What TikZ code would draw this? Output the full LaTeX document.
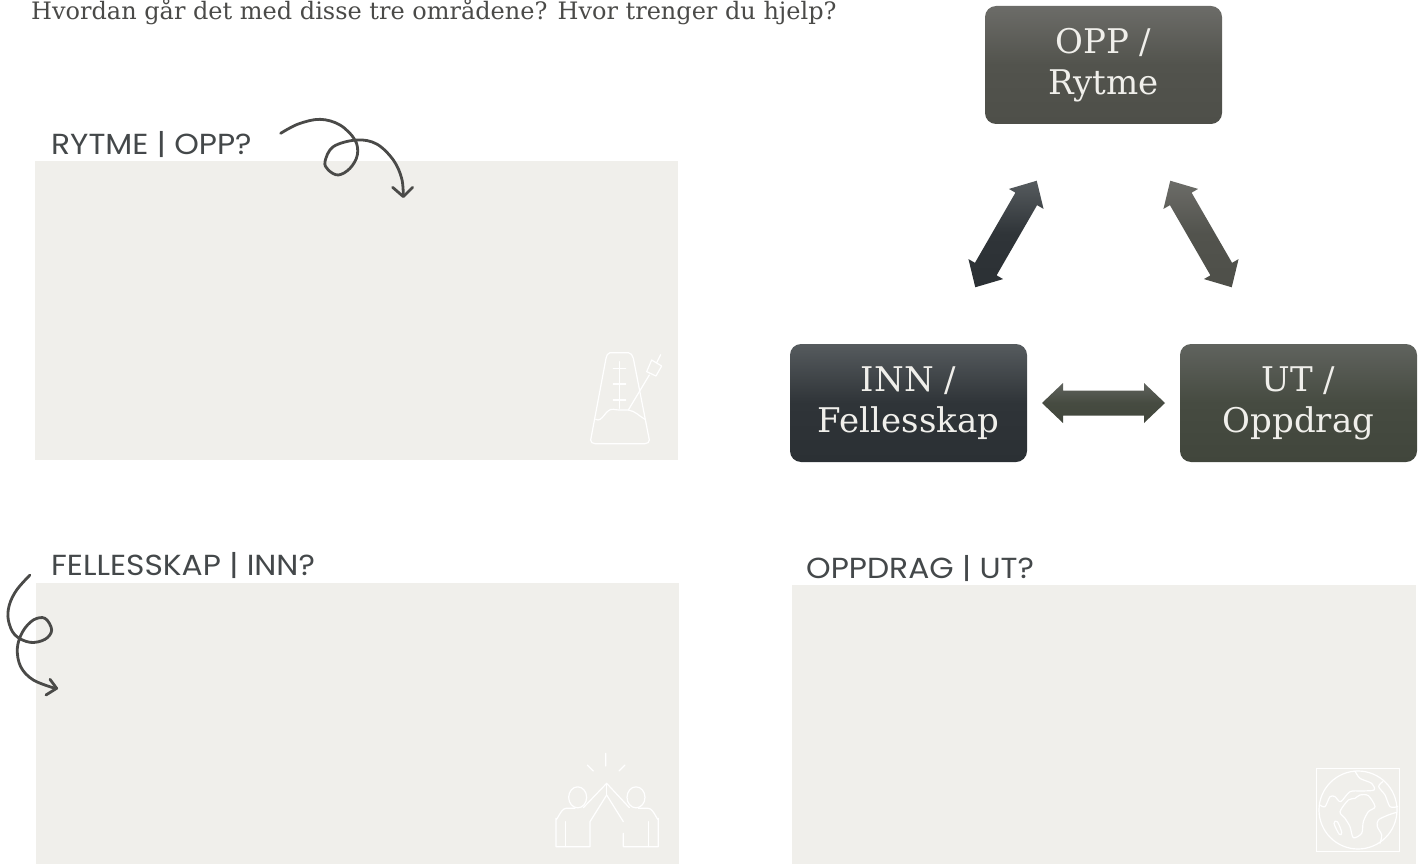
\documentclass[tikz,border=0pt]{standalone}
\usepackage{fontspec}
\usetikzlibrary{calc}
\setmainfont{DejaVu Serif}
\newfontfamily\slabfont{DejaVu Serif}
\newfontfamily\labelfont[FakeStretch=1.08]{Poppins}
\definecolor{panelc}{HTML}{F0EFEB}
\definecolor{inkc}{HTML}{4A4A48}
\definecolor{labelc}{HTML}{44484A}
\definecolor{boxtext}{HTML}{F0EFEB}
\definecolor{gA1}{HTML}{6C6C68}\definecolor{gA2}{HTML}{52534D}\definecolor{gA3}{HTML}{4E4F49}
\definecolor{gB1}{HTML}{565B5E}\definecolor{gB2}{HTML}{2F3438}\definecolor{gB3}{HTML}{2B3034}
\definecolor{gC1}{HTML}{60635E}\definecolor{gC2}{HTML}{464B41}\definecolor{gC3}{HTML}{41463C}
\tikzset{
  panel/.style={fill=panelc,draw=none},
  flowbox/.style={rounded corners=11pt,minimum width=237pt,minimum height=118pt,inner sep=0pt,align=center,text=boxtext,font=\slabfont\fontsize{34}{41}\selectfont},
  gradA/.style={top color=gA1,bottom color=gA3,middle color=gA2},
  gradB/.style={top color=gB1,bottom color=gB3,middle color=gB2},
  gradC/.style={top color=gC1,bottom color=gC3,middle color=gC2},
  panellabel/.style={anchor=base west,inner sep=0pt,text=labelc,font=\labelfont\fontsize{29}{34}\selectfont},
  curl/.style={draw=inkc,line width=2.8pt,line cap=round,line join=round},
  icon/.style={draw=white,line width=1.2pt,line cap=round,line join=round},
}
\newcommand{\blockarrow}[3]{%
  \coordinate (tipA) at ($(#1)!0.5!(#2)!61.5pt!(#1)$);
  \coordinate (tipB) at ($(#1)!0.5!(#2)!61.5pt!(#2)$);
  \path[#3] (tipA)
    -- ($(tipA)!21pt!(tipB)!20pt!90:(tipB)$)
    -- ($(tipA)!21pt!(tipB)!12.5pt!90:(tipB)$)
    -- ($(tipB)!21pt!(tipA)!12.5pt!-90:(tipA)$)
    -- ($(tipB)!21pt!(tipA)!20pt!-90:(tipA)$)
    -- (tipB)
    -- ($(tipB)!21pt!(tipA)!20pt!90:(tipA)$)
    -- ($(tipB)!21pt!(tipA)!12.5pt!90:(tipA)$)
    -- ($(tipA)!21pt!(tipB)!12.5pt!-90:(tipB)$)
    -- ($(tipA)!21pt!(tipB)!20pt!-90:(tipB)$)
    -- cycle;
}
\begin{document}
\begin{tikzpicture}[x=1pt,y=-1pt]
\clip (0,0) rectangle (1421,864);
\useasboundingbox (0,0) rectangle (1421,864);

% panels
\path[panel] (35,161) rectangle (678,460);
\path[panel] (36,583) rectangle (679,864);
\path[panel] (792,585) rectangle (1416,864);

% texts
\node[anchor=base west,inner sep=0pt,text=inkc,font=\slabfont\fontsize{24}{28}\selectfont] (intro) at (31,19.5) {Hvordan går det med disse tre områdene? Hvor trenger du hjelp?};
\node[panellabel] (lab1) at (51,154) {RYTME | OPP?};
\node[panellabel] (lab2) at (51,575) {FELLESSKAP | INN?};
\node[panellabel] (lab3) at (806,578) {OPPDRAG | UT?};

% flow boxes
\node[flowbox,gradA] (opp) at (1103.5,65) {OPP /\\Rytme};
\node[flowbox,gradB] (inn) at (908.5,403) {INN /\\Fellesskap};
\node[flowbox,gradC] (ut) at (1298.5,403) {UT /\\Oppdrag};

% double arrows
\blockarrow{inn}{opp}{gradB}
\blockarrow{opp}{ut}{gradA}
\blockarrow{inn}{ut}{gradC}

% curl 1
\begin{scope}[shift={(260,100)},x=0.3333pt,y=-0.3333pt]
\draw[curl] plot[smooth,tension=0.6] coordinates {(62,100) (115,72) (180,58) (240,75) (285,120) (292,165) (270,205) (235,225) (205,210) (195,185) (220,140) (290,120) (350,132) (400,180) (425,235) (430,288)};
\draw[curl] (398,262) -- (430,290) -- (458,262);
\end{scope}

% curl 2
\begin{scope}[shift={(0,570)},x=0.3333pt,y=-0.3333pt]
\draw[curl] plot[smooth,tension=0.6] coordinates {(90,15) (50,60) (28,105) (25,150) (45,195) (90,217) (135,208) (155,180) (135,145) (100,150) (68,185) (52,235) (62,290) (100,330) (165,355)};
\draw[curl] (150,328) -- (170,355) -- (138,375);
\end{scope}

% metronome
\begin{scope}[shift={(570,340)},x=0.3333pt,y=-0.3333pt]
\draw[icon] (120,38) -- (175,38) to[out=0,in=110] (190,55) -- (238,300) to[out=-80,in=0] (225,311) -- (75,311) to[out=180,in=-100] (62,300) -- (108,55) to[out=70,in=180] (120,38);
\draw[icon] (148,65) -- (148,205);
\draw[icon] (130,85) -- (167,85) (130,132) -- (167,132) (130,180) -- (167,180);
\draw[icon] (77,238) to[out=-30,in=170] (130,208) to[out=-10,in=180] (175,210) to[out=-10,in=150] (225,238);
\draw[icon] (175,210) -- (238,105);
\draw[icon] (230,95) -- (245,60) -- (275,78) -- (258,108) -- cycle;
\draw[icon] (260,68) -- (272,44);
\end{scope}

% high five
\begin{scope}[shift={(540,745)},x=0.3333pt,y=-0.3333pt]
\draw[icon] (197,25) -- (197,63) (142,60) -- (160,78) (255,60) -- (237,78);
\draw[icon] (113,157) ellipse[x radius=9pt,y radius=10.5pt] (288,157) ellipse[x radius=9pt,y radius=10.5pt];
\draw[icon] (130,188) -- (200,115) -- (268,188);
\draw[icon] (200,115) -- (200,150);
\draw[icon] (200,150) -- (150,230) -- (150,305) -- (48,305) -- (48,220) to[out=-90,in=180] (78,190) -- (105,190);
\draw[icon] (200,150) -- (250,230) (250,265) -- (250,305) -- (355,305) -- (355,220) to[out=-90,in=0] (325,190) -- (295,190);
\draw[icon] (77,230) -- (77,305) (325,230) -- (325,305);
\end{scope}

% globe
\begin{scope}[shift={(1300,755)},x=0.3333pt,y=-0.3333pt]
\draw[draw=white,line width=0.8pt] (50,40) rectangle (298,290);
\draw[icon] (174,165) circle[radius=39pt];
\draw[icon] plot[smooth,tension=0.5] coordinates {(165,48) (180,70) (215,85) (222,105) (185,108) (150,110) (122,140) (105,125) (90,125) (75,155) (60,150)};
\draw[icon] plot[smooth cycle,tension=0.5] coordinates {(120,170) (145,135) (165,130) (180,120) (205,122) (225,155) (205,170) (190,200) (185,235) (160,248) (150,215) (135,190)};
\draw[icon] plot[smooth cycle,tension=0.6] coordinates {(102,205) (112,200) (125,232) (118,238)};
\draw[icon] plot[smooth,tension=0.5] coordinates {(248,80) (236,95) (255,120) (270,155) (293,155)};
\draw[icon] plot[smooth,tension=0.5] coordinates {(290,172) (265,180) (235,195) (232,215) (245,240) (240,265)};
\end{scope}
\end{tikzpicture}
\end{document}
